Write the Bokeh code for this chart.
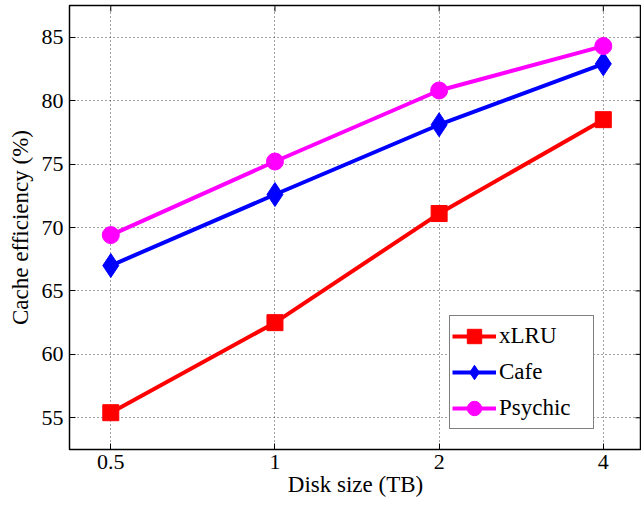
import math
from bokeh.plotting import figure
from bokeh.models import FixedTicker, Legend, LegendItem, Range1d
from bokeh.embed import file_html
from bokeh.resources import INLINE

disk_sizes = [0.5, 1, 2, 4]
xlru = [55.4, 62.5, 71.1, 78.5]
cafe = [67.0, 72.6, 78.1, 82.9]
psychic = [69.4, 75.2, 80.8, 84.3]
x_ticks = [0.5, 1, 2, 4]
x_tick_labels = {0.5: "0.5", 1: "1", 2: "2", 4: "4"}
y_ticks = [55, 60, 65, 70, 75, 80, 85]

FONT = "Liberation Serif"
X_LO, X_HI = 0.42, 4.7
Y_LO, Y_HI = 52.5, 87.5

p = figure(width=642, height=505, x_axis_type="log", output_backend="svg",
           toolbar_location=None, x_range=Range1d(X_LO, X_HI), y_range=Range1d(Y_LO, Y_HI),
           frame_width=572, frame_height=444,
           min_border_left=69, min_border_right=0, min_border_top=5, min_border_bottom=56)
p.outline_line_color = "black"
p.outline_line_width = 1.5

xa = p.below[0]
ya = p.left[0]
xa.ticker = FixedTicker(ticks=x_ticks)
xa.major_label_overrides = {k: v for k, v in x_tick_labels.items()}
ya.ticker = FixedTicker(ticks=y_ticks)
for ax in (xa, ya):
    ax.major_tick_in = 6
    ax.major_tick_out = 0
    ax.minor_tick_line_color = None
    ax.axis_line_color = "black"
    ax.major_label_text_font = FONT
    ax.major_label_text_font_size = "22px"
    ax.major_label_text_color = "black"
    ax.axis_label_text_font = FONT
    ax.axis_label_text_font_size = "23px"
    ax.axis_label_text_font_style = "normal"
    ax.axis_label_text_color = "black"
xa.axis_label = "Disk size (TB)"
ya.axis_label = "Cache efficiency (%)"
xa.major_label_standoff = 5
ya.major_label_standoff = 6
xa.axis_label_standoff = 0
ya.axis_label_standoff = 6

for g in (p.xgrid[0], p.ygrid[0]):
    g.grid_line_color = "#444444"
    g.grid_line_dash = "1 3"
    g.grid_line_width = 1
    g.minor_grid_line_color = None

# mirrored inward ticks on the right and top edges (clipped half-dashes)
p.scatter([X_HI] * len(y_ticks), y_ticks, marker="dash", size=12, line_color="black", line_width=1)
p.scatter(x_ticks, [Y_HI] * len(x_ticks), marker="dash", angle=math.pi / 2, size=12,
          line_color="black", line_width=1)

r1l = p.line(disk_sizes, xlru, line_color="#FF0000", line_width=4)
r1m = p.scatter(disk_sizes, xlru, marker="square", size=16, fill_color="#FF0000", line_color="#FF0000")
r2l = p.line(disk_sizes, cafe, line_color="#0000FF", line_width=4)
r2m = p.scatter(disk_sizes, cafe, marker="diamond", size=24, fill_color="#0000FF", line_color="#0000FF")
r3l = p.line(disk_sizes, psychic, line_color="#FF00FF", line_width=4)
r3m = p.scatter(disk_sizes, psychic, marker="circle", size=17, fill_color="#FF00FF", line_color="#FF00FF")

legend = Legend(items=[
    LegendItem(label="xLRU", renderers=[r1l, r1m]),
    LegendItem(label="Cafe", renderers=[r2l, r2m]),
    LegendItem(label="Psychic", renderers=[r3l, r3m]),
], location=(380, 20))
legend.label_text_font = FONT
legend.label_text_font_size = "23px"
legend.label_text_color = "black"
legend.border_line_color = "black"
legend.border_line_width = 1.5
legend.glyph_width = 44
legend.glyph_height = 36
legend.spacing = -6
legend.padding = 2
legend.margin = 0
legend.label_standoff = 3
legend.label_height = 30
legend.label_width = 92
legend.background_fill_alpha = 1
p.add_layout(legend, "center")

open("out.html", "w").write(file_html(p, INLINE))
